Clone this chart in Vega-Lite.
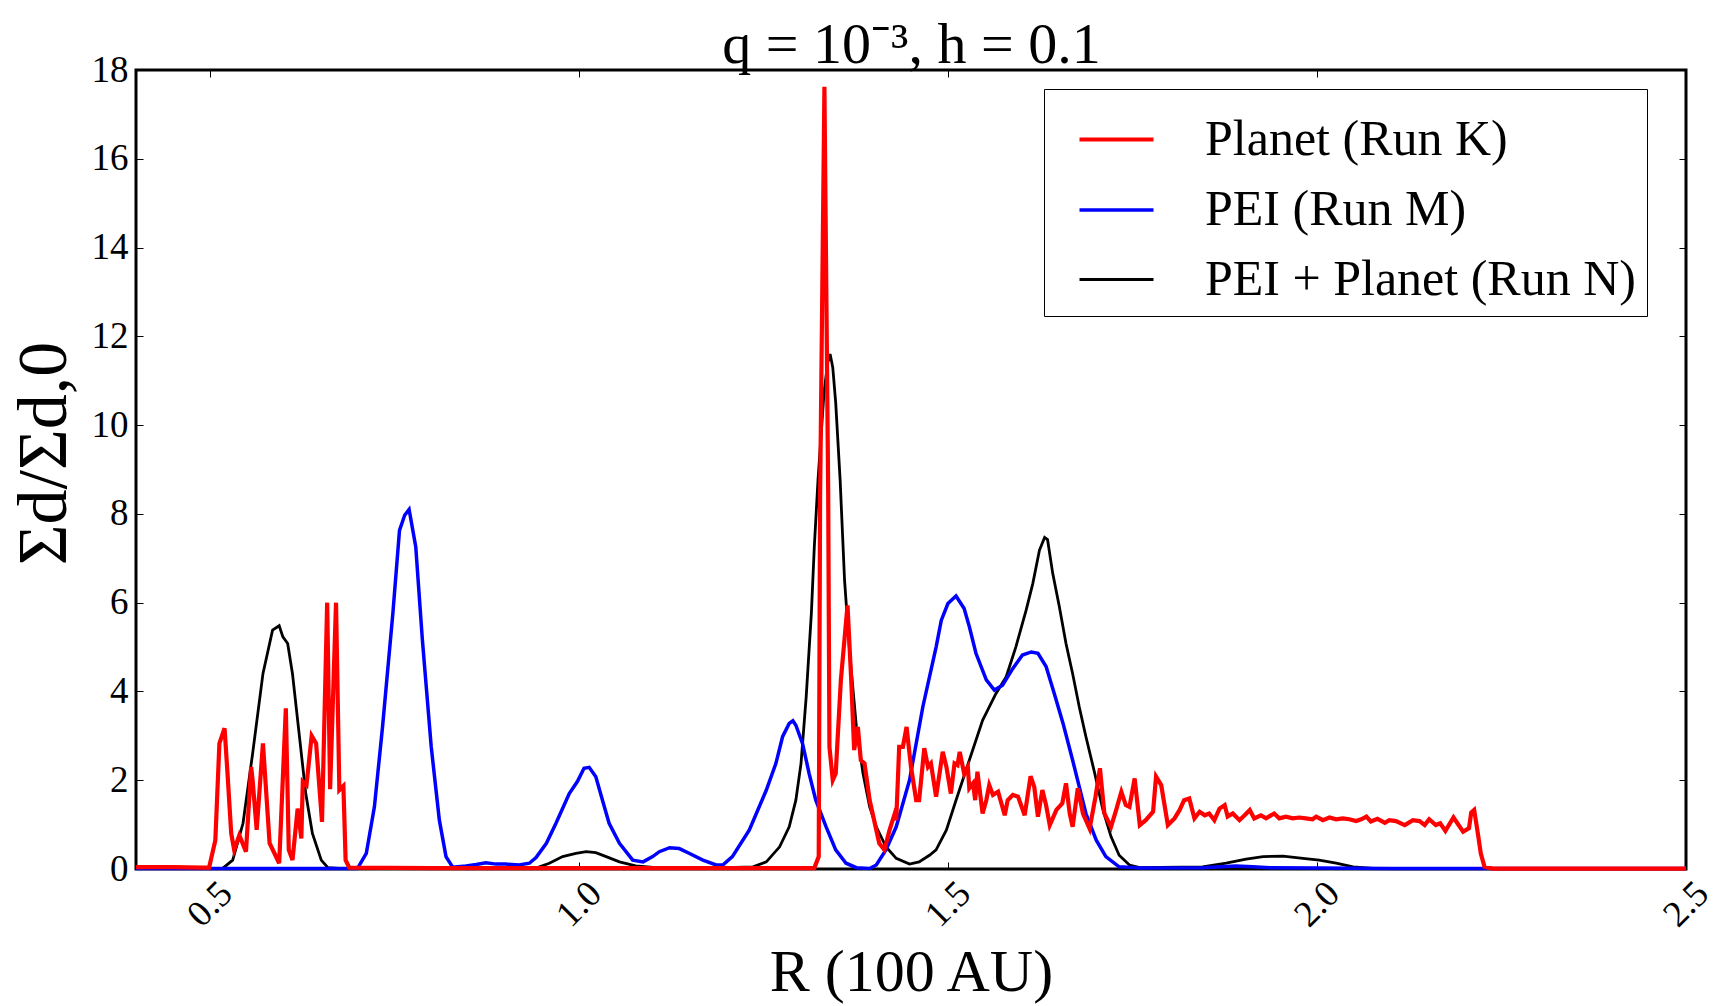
{
  "$schema": "https://vega.github.io/schema/vega-lite/v6.json",
  "description": "Dust surface density ratio vs radius, q=1e-3, h=0.1",
  "width": 1550,
  "height": 799,
  "autosize": {"type": "none"},
  "padding": {"left": 136, "top": 70, "right": 39, "bottom": 137},
  "background": "white",
  "data": {
    "values": [
      {"r": 0.40, "s": 0.04, "run": "Planet (Run K)"},
      {"r": 0.45, "s": 0.04, "run": "Planet (Run K)"},
      {"r": 0.49, "s": 0.03, "run": "Planet (Run K)"},
      {"r": 0.499, "s": 0.03, "run": "Planet (Run K)"},
      {"r": 0.5075, "s": 0.65, "run": "Planet (Run K)"},
      {"r": 0.513, "s": 2.83, "run": "Planet (Run K)"},
      {"r": 0.52, "s": 3.17, "run": "Planet (Run K)"},
      {"r": 0.524, "s": 2.15, "run": "Planet (Run K)"},
      {"r": 0.529, "s": 0.8, "run": "Planet (Run K)"},
      {"r": 0.533, "s": 0.43, "run": "Planet (Run K)"},
      {"r": 0.54, "s": 0.76, "run": "Planet (Run K)"},
      {"r": 0.549, "s": 0.39, "run": "Planet (Run K)"},
      {"r": 0.556, "s": 2.3, "run": "Planet (Run K)"},
      {"r": 0.558, "s": 2.0, "run": "Planet (Run K)"},
      {"r": 0.5635, "s": 0.88, "run": "Planet (Run K)"},
      {"r": 0.572, "s": 2.83, "run": "Planet (Run K)"},
      {"r": 0.581, "s": 0.58, "run": "Planet (Run K)"},
      {"r": 0.594, "s": 0.13, "run": "Planet (Run K)"},
      {"r": 0.603, "s": 3.62, "run": "Planet (Run K)"},
      {"r": 0.607, "s": 0.43, "run": "Planet (Run K)"},
      {"r": 0.612, "s": 0.2, "run": "Planet (Run K)"},
      {"r": 0.619, "s": 1.36, "run": "Planet (Run K)"},
      {"r": 0.624, "s": 0.69, "run": "Planet (Run K)"},
      {"r": 0.626, "s": 1.97, "run": "Planet (Run K)"},
      {"r": 0.631, "s": 1.89, "run": "Planet (Run K)"},
      {"r": 0.638, "s": 3.0, "run": "Planet (Run K)"},
      {"r": 0.644, "s": 2.83, "run": "Planet (Run K)"},
      {"r": 0.652, "s": 1.06, "run": "Planet (Run K)"},
      {"r": 0.659, "s": 6.0, "run": "Planet (Run K)"},
      {"r": 0.663, "s": 1.8, "run": "Planet (Run K)"},
      {"r": 0.671, "s": 6.0, "run": "Planet (Run K)"},
      {"r": 0.6755, "s": 1.78, "run": "Planet (Run K)"},
      {"r": 0.681, "s": 1.87, "run": "Planet (Run K)"},
      {"r": 0.684, "s": 0.2, "run": "Planet (Run K)"},
      {"r": 0.689, "s": 0.03, "run": "Planet (Run K)"},
      {"r": 0.8, "s": 0.02, "run": "Planet (Run K)"},
      {"r": 1.0, "s": 0.02, "run": "Planet (Run K)"},
      {"r": 1.2, "s": 0.02, "run": "Planet (Run K)"},
      {"r": 1.319, "s": 0.02, "run": "Planet (Run K)"},
      {"r": 1.325, "s": 0.28, "run": "Planet (Run K)"},
      {"r": 1.3268, "s": 8.3, "run": "Planet (Run K)"},
      {"r": 1.3327, "s": 17.62, "run": "Planet (Run K)"},
      {"r": 1.3378, "s": 8.5, "run": "Planet (Run K)"},
      {"r": 1.3395, "s": 2.75, "run": "Planet (Run K)"},
      {"r": 1.344, "s": 2.0, "run": "Planet (Run K)"},
      {"r": 1.348, "s": 2.15, "run": "Planet (Run K)"},
      {"r": 1.355, "s": 4.26, "run": "Planet (Run K)"},
      {"r": 1.364, "s": 5.94, "run": "Planet (Run K)"},
      {"r": 1.369, "s": 4.26, "run": "Planet (Run K)"},
      {"r": 1.373, "s": 2.68, "run": "Planet (Run K)"},
      {"r": 1.378, "s": 3.2, "run": "Planet (Run K)"},
      {"r": 1.382, "s": 2.45, "run": "Planet (Run K)"},
      {"r": 1.387, "s": 2.38, "run": "Planet (Run K)"},
      {"r": 1.394, "s": 1.55, "run": "Planet (Run K)"},
      {"r": 1.398, "s": 1.25, "run": "Planet (Run K)"},
      {"r": 1.407, "s": 0.58, "run": "Planet (Run K)"},
      {"r": 1.414, "s": 0.43, "run": "Planet (Run K)"},
      {"r": 1.421, "s": 0.88, "run": "Planet (Run K)"},
      {"r": 1.428, "s": 1.25, "run": "Planet (Run K)"},
      {"r": 1.43, "s": 1.1, "run": "Planet (Run K)"},
      {"r": 1.434, "s": 2.75, "run": "Planet (Run K)"},
      {"r": 1.439, "s": 2.75, "run": "Planet (Run K)"},
      {"r": 1.444, "s": 3.2, "run": "Planet (Run K)"},
      {"r": 1.45, "s": 2.3, "run": "Planet (Run K)"},
      {"r": 1.457, "s": 1.55, "run": "Planet (Run K)"},
      {"r": 1.461, "s": 1.55, "run": "Planet (Run K)"},
      {"r": 1.468, "s": 2.72, "run": "Planet (Run K)"},
      {"r": 1.473, "s": 2.3, "run": "Planet (Run K)"},
      {"r": 1.477, "s": 2.38, "run": "Planet (Run K)"},
      {"r": 1.484, "s": 1.63, "run": "Planet (Run K)"},
      {"r": 1.493, "s": 2.64, "run": "Planet (Run K)"},
      {"r": 1.498, "s": 2.3, "run": "Planet (Run K)"},
      {"r": 1.504, "s": 1.7, "run": "Planet (Run K)"},
      {"r": 1.509, "s": 2.38, "run": "Planet (Run K)"},
      {"r": 1.513, "s": 2.34, "run": "Planet (Run K)"},
      {"r": 1.516, "s": 2.64, "run": "Planet (Run K)"},
      {"r": 1.522, "s": 2.15, "run": "Planet (Run K)"},
      {"r": 1.527, "s": 2.3, "run": "Planet (Run K)"},
      {"r": 1.529, "s": 1.82, "run": "Planet (Run K)"},
      {"r": 1.534, "s": 1.93, "run": "Planet (Run K)"},
      {"r": 1.537, "s": 1.55, "run": "Planet (Run K)"},
      {"r": 1.54, "s": 2.19, "run": "Planet (Run K)"},
      {"r": 1.547, "s": 1.25, "run": "Planet (Run K)"},
      {"r": 1.552, "s": 1.55, "run": "Planet (Run K)"},
      {"r": 1.556, "s": 1.89, "run": "Planet (Run K)"},
      {"r": 1.561, "s": 1.67, "run": "Planet (Run K)"},
      {"r": 1.568, "s": 1.74, "run": "Planet (Run K)"},
      {"r": 1.577, "s": 1.21, "run": "Planet (Run K)"},
      {"r": 1.581, "s": 1.55, "run": "Planet (Run K)"},
      {"r": 1.588, "s": 1.67, "run": "Planet (Run K)"},
      {"r": 1.595, "s": 1.63, "run": "Planet (Run K)"},
      {"r": 1.604, "s": 1.21, "run": "Planet (Run K)"},
      {"r": 1.612, "s": 2.09, "run": "Planet (Run K)"},
      {"r": 1.617, "s": 1.85, "run": "Planet (Run K)"},
      {"r": 1.622, "s": 1.18, "run": "Planet (Run K)"},
      {"r": 1.628, "s": 1.78, "run": "Planet (Run K)"},
      {"r": 1.633, "s": 1.44, "run": "Planet (Run K)"},
      {"r": 1.638, "s": 0.99, "run": "Planet (Run K)"},
      {"r": 1.647, "s": 1.33, "run": "Planet (Run K)"},
      {"r": 1.655, "s": 1.48, "run": "Planet (Run K)"},
      {"r": 1.66, "s": 1.93, "run": "Planet (Run K)"},
      {"r": 1.665, "s": 1.25, "run": "Planet (Run K)"},
      {"r": 1.669, "s": 0.95, "run": "Planet (Run K)"},
      {"r": 1.676, "s": 1.82, "run": "Planet (Run K)"},
      {"r": 1.683, "s": 1.25, "run": "Planet (Run K)"},
      {"r": 1.692, "s": 0.91, "run": "Planet (Run K)"},
      {"r": 1.7, "s": 1.63, "run": "Planet (Run K)"},
      {"r": 1.706, "s": 2.27, "run": "Planet (Run K)"},
      {"r": 1.712, "s": 1.25, "run": "Planet (Run K)"},
      {"r": 1.721, "s": 0.95, "run": "Planet (Run K)"},
      {"r": 1.728, "s": 1.33, "run": "Planet (Run K)"},
      {"r": 1.735, "s": 1.74, "run": "Planet (Run K)"},
      {"r": 1.741, "s": 1.44, "run": "Planet (Run K)"},
      {"r": 1.746, "s": 1.4, "run": "Planet (Run K)"},
      {"r": 1.753, "s": 2.04, "run": "Planet (Run K)"},
      {"r": 1.76, "s": 0.99, "run": "Planet (Run K)"},
      {"r": 1.768, "s": 1.1, "run": "Planet (Run K)"},
      {"r": 1.778, "s": 1.29, "run": "Planet (Run K)"},
      {"r": 1.782, "s": 2.08, "run": "Planet (Run K)"},
      {"r": 1.789, "s": 1.89, "run": "Planet (Run K)"},
      {"r": 1.798, "s": 0.99, "run": "Planet (Run K)"},
      {"r": 1.807, "s": 1.14, "run": "Planet (Run K)"},
      {"r": 1.814, "s": 1.33, "run": "Planet (Run K)"},
      {"r": 1.82, "s": 1.55, "run": "Planet (Run K)"},
      {"r": 1.827, "s": 1.59, "run": "Planet (Run K)"},
      {"r": 1.834, "s": 1.14, "run": "Planet (Run K)"},
      {"r": 1.841, "s": 1.29, "run": "Planet (Run K)"},
      {"r": 1.848, "s": 1.21, "run": "Planet (Run K)"},
      {"r": 1.854, "s": 1.25, "run": "Planet (Run K)"},
      {"r": 1.861, "s": 1.1, "run": "Planet (Run K)"},
      {"r": 1.868, "s": 1.36, "run": "Planet (Run K)"},
      {"r": 1.875, "s": 1.44, "run": "Planet (Run K)"},
      {"r": 1.879, "s": 1.18, "run": "Planet (Run K)"},
      {"r": 1.886, "s": 1.25, "run": "Planet (Run K)"},
      {"r": 1.895, "s": 1.1, "run": "Planet (Run K)"},
      {"r": 1.902, "s": 1.21, "run": "Planet (Run K)"},
      {"r": 1.909, "s": 1.33, "run": "Planet (Run K)"},
      {"r": 1.915, "s": 1.14, "run": "Planet (Run K)"},
      {"r": 1.924, "s": 1.21, "run": "Planet (Run K)"},
      {"r": 1.931, "s": 1.14, "run": "Planet (Run K)"},
      {"r": 1.942, "s": 1.25, "run": "Planet (Run K)"},
      {"r": 1.949, "s": 1.14, "run": "Planet (Run K)"},
      {"r": 1.958, "s": 1.18, "run": "Planet (Run K)"},
      {"r": 1.967, "s": 1.14, "run": "Planet (Run K)"},
      {"r": 1.976, "s": 1.16, "run": "Planet (Run K)"},
      {"r": 1.985, "s": 1.14, "run": "Planet (Run K)"},
      {"r": 1.994, "s": 1.12, "run": "Planet (Run K)"},
      {"r": 1.999, "s": 1.18, "run": "Planet (Run K)"},
      {"r": 2.008, "s": 1.1, "run": "Planet (Run K)"},
      {"r": 2.017, "s": 1.16, "run": "Planet (Run K)"},
      {"r": 2.026, "s": 1.12, "run": "Planet (Run K)"},
      {"r": 2.035, "s": 1.14, "run": "Planet (Run K)"},
      {"r": 2.044, "s": 1.12, "run": "Planet (Run K)"},
      {"r": 2.053, "s": 1.08, "run": "Planet (Run K)"},
      {"r": 2.06, "s": 1.12, "run": "Planet (Run K)"},
      {"r": 2.067, "s": 1.18, "run": "Planet (Run K)"},
      {"r": 2.073, "s": 1.07, "run": "Planet (Run K)"},
      {"r": 2.082, "s": 1.13, "run": "Planet (Run K)"},
      {"r": 2.092, "s": 1.04, "run": "Planet (Run K)"},
      {"r": 2.098, "s": 1.1, "run": "Planet (Run K)"},
      {"r": 2.107, "s": 1.08, "run": "Planet (Run K)"},
      {"r": 2.119, "s": 0.99, "run": "Planet (Run K)"},
      {"r": 2.13, "s": 1.1, "run": "Planet (Run K)"},
      {"r": 2.139, "s": 1.08, "run": "Planet (Run K)"},
      {"r": 2.146, "s": 0.99, "run": "Planet (Run K)"},
      {"r": 2.152, "s": 1.12, "run": "Planet (Run K)"},
      {"r": 2.161, "s": 0.99, "run": "Planet (Run K)"},
      {"r": 2.167, "s": 1.03, "run": "Planet (Run K)"},
      {"r": 2.174, "s": 0.86, "run": "Planet (Run K)"},
      {"r": 2.185, "s": 1.16, "run": "Planet (Run K)"},
      {"r": 2.198, "s": 0.84, "run": "Planet (Run K)"},
      {"r": 2.206, "s": 0.92, "run": "Planet (Run K)"},
      {"r": 2.209, "s": 1.27, "run": "Planet (Run K)"},
      {"r": 2.213, "s": 1.33, "run": "Planet (Run K)"},
      {"r": 2.218, "s": 0.8, "run": "Planet (Run K)"},
      {"r": 2.222, "s": 0.35, "run": "Planet (Run K)"},
      {"r": 2.227, "s": 0.05, "run": "Planet (Run K)"},
      {"r": 2.238, "s": 0.01, "run": "Planet (Run K)"},
      {"r": 2.5, "s": 0.01, "run": "Planet (Run K)"},

      {"r": 0.40, "s": 0.01, "run": "PEI (Run M)"},
      {"r": 0.70, "s": 0.01, "run": "PEI (Run M)"},
      {"r": 0.712, "s": 0.35, "run": "PEI (Run M)"},
      {"r": 0.723, "s": 1.4, "run": "PEI (Run M)"},
      {"r": 0.734, "s": 3.2, "run": "PEI (Run M)"},
      {"r": 0.748, "s": 5.76, "run": "PEI (Run M)"},
      {"r": 0.757, "s": 7.63, "run": "PEI (Run M)"},
      {"r": 0.764, "s": 7.97, "run": "PEI (Run M)"},
      {"r": 0.77, "s": 8.1, "run": "PEI (Run M)"},
      {"r": 0.779, "s": 7.26, "run": "PEI (Run M)"},
      {"r": 0.788, "s": 5.16, "run": "PEI (Run M)"},
      {"r": 0.8, "s": 2.75, "run": "PEI (Run M)"},
      {"r": 0.811, "s": 1.1, "run": "PEI (Run M)"},
      {"r": 0.82, "s": 0.28, "run": "PEI (Run M)"},
      {"r": 0.829, "s": 0.04, "run": "PEI (Run M)"},
      {"r": 0.847, "s": 0.07, "run": "PEI (Run M)"},
      {"r": 0.861, "s": 0.1, "run": "PEI (Run M)"},
      {"r": 0.874, "s": 0.14, "run": "PEI (Run M)"},
      {"r": 0.888, "s": 0.11, "run": "PEI (Run M)"},
      {"r": 0.901, "s": 0.11, "run": "PEI (Run M)"},
      {"r": 0.919, "s": 0.09, "run": "PEI (Run M)"},
      {"r": 0.933, "s": 0.13, "run": "PEI (Run M)"},
      {"r": 0.942, "s": 0.26, "run": "PEI (Run M)"},
      {"r": 0.956, "s": 0.58, "run": "PEI (Run M)"},
      {"r": 0.969, "s": 1.03, "run": "PEI (Run M)"},
      {"r": 0.987, "s": 1.7, "run": "PEI (Run M)"},
      {"r": 0.998, "s": 1.97, "run": "PEI (Run M)"},
      {"r": 1.007, "s": 2.27, "run": "PEI (Run M)"},
      {"r": 1.014, "s": 2.29, "run": "PEI (Run M)"},
      {"r": 1.023, "s": 2.08, "run": "PEI (Run M)"},
      {"r": 1.032, "s": 1.55, "run": "PEI (Run M)"},
      {"r": 1.041, "s": 1.03, "run": "PEI (Run M)"},
      {"r": 1.055, "s": 0.58, "run": "PEI (Run M)"},
      {"r": 1.073, "s": 0.2, "run": "PEI (Run M)"},
      {"r": 1.087, "s": 0.16, "run": "PEI (Run M)"},
      {"r": 1.1, "s": 0.28, "run": "PEI (Run M)"},
      {"r": 1.109, "s": 0.39, "run": "PEI (Run M)"},
      {"r": 1.123, "s": 0.48, "run": "PEI (Run M)"},
      {"r": 1.136, "s": 0.46, "run": "PEI (Run M)"},
      {"r": 1.15, "s": 0.35, "run": "PEI (Run M)"},
      {"r": 1.168, "s": 0.2, "run": "PEI (Run M)"},
      {"r": 1.186, "s": 0.09, "run": "PEI (Run M)"},
      {"r": 1.195, "s": 0.09, "run": "PEI (Run M)"},
      {"r": 1.208, "s": 0.28, "run": "PEI (Run M)"},
      {"r": 1.231, "s": 0.88, "run": "PEI (Run M)"},
      {"r": 1.254, "s": 1.78, "run": "PEI (Run M)"},
      {"r": 1.267, "s": 2.38, "run": "PEI (Run M)"},
      {"r": 1.276, "s": 2.98, "run": "PEI (Run M)"},
      {"r": 1.285, "s": 3.28, "run": "PEI (Run M)"},
      {"r": 1.29, "s": 3.34, "run": "PEI (Run M)"},
      {"r": 1.294, "s": 3.24, "run": "PEI (Run M)"},
      {"r": 1.303, "s": 2.83, "run": "PEI (Run M)"},
      {"r": 1.312, "s": 2.15, "run": "PEI (Run M)"},
      {"r": 1.321, "s": 1.55, "run": "PEI (Run M)"},
      {"r": 1.335, "s": 0.95, "run": "PEI (Run M)"},
      {"r": 1.348, "s": 0.43, "run": "PEI (Run M)"},
      {"r": 1.362, "s": 0.13, "run": "PEI (Run M)"},
      {"r": 1.376, "s": 0.03, "run": "PEI (Run M)"},
      {"r": 1.394, "s": 0.01, "run": "PEI (Run M)"},
      {"r": 1.403, "s": 0.09, "run": "PEI (Run M)"},
      {"r": 1.416, "s": 0.43, "run": "PEI (Run M)"},
      {"r": 1.43, "s": 0.95, "run": "PEI (Run M)"},
      {"r": 1.448, "s": 2.0, "run": "PEI (Run M)"},
      {"r": 1.466, "s": 3.65, "run": "PEI (Run M)"},
      {"r": 1.484, "s": 5.0, "run": "PEI (Run M)"},
      {"r": 1.491, "s": 5.6, "run": "PEI (Run M)"},
      {"r": 1.5, "s": 5.98, "run": "PEI (Run M)"},
      {"r": 1.511, "s": 6.15, "run": "PEI (Run M)"},
      {"r": 1.522, "s": 5.87, "run": "PEI (Run M)"},
      {"r": 1.529, "s": 5.46, "run": "PEI (Run M)"},
      {"r": 1.538, "s": 4.86, "run": "PEI (Run M)"},
      {"r": 1.552, "s": 4.26, "run": "PEI (Run M)"},
      {"r": 1.563, "s": 4.03, "run": "PEI (Run M)"},
      {"r": 1.574, "s": 4.14, "run": "PEI (Run M)"},
      {"r": 1.588, "s": 4.52, "run": "PEI (Run M)"},
      {"r": 1.601, "s": 4.82, "run": "PEI (Run M)"},
      {"r": 1.613, "s": 4.89, "run": "PEI (Run M)"},
      {"r": 1.622, "s": 4.86, "run": "PEI (Run M)"},
      {"r": 1.633, "s": 4.56, "run": "PEI (Run M)"},
      {"r": 1.644, "s": 3.96, "run": "PEI (Run M)"},
      {"r": 1.656, "s": 3.28, "run": "PEI (Run M)"},
      {"r": 1.669, "s": 2.45, "run": "PEI (Run M)"},
      {"r": 1.678, "s": 1.85, "run": "PEI (Run M)"},
      {"r": 1.687, "s": 1.25, "run": "PEI (Run M)"},
      {"r": 1.701, "s": 0.65, "run": "PEI (Run M)"},
      {"r": 1.714, "s": 0.28, "run": "PEI (Run M)"},
      {"r": 1.732, "s": 0.05, "run": "PEI (Run M)"},
      {"r": 1.76, "s": 0.02, "run": "PEI (Run M)"},
      {"r": 1.845, "s": 0.03, "run": "PEI (Run M)"},
      {"r": 1.89, "s": 0.07, "run": "PEI (Run M)"},
      {"r": 1.913, "s": 0.05, "run": "PEI (Run M)"},
      {"r": 1.936, "s": 0.03, "run": "PEI (Run M)"},
      {"r": 2.0, "s": 0.02, "run": "PEI (Run M)"},
      {"r": 2.1, "s": 0.01, "run": "PEI (Run M)"},
      {"r": 2.5, "s": 0.01, "run": "PEI (Run M)"},

      {"r": 0.40, "s": 0.05, "run": "PEI + Planet (Run N)"},
      {"r": 0.42, "s": 0.03, "run": "PEI + Planet (Run N)"},
      {"r": 0.45, "s": 0.01, "run": "PEI + Planet (Run N)"},
      {"r": 0.517, "s": 0.01, "run": "PEI + Planet (Run N)"},
      {"r": 0.531, "s": 0.2, "run": "PEI + Planet (Run N)"},
      {"r": 0.545, "s": 1.03, "run": "PEI + Planet (Run N)"},
      {"r": 0.558, "s": 2.6, "run": "PEI + Planet (Run N)"},
      {"r": 0.572, "s": 4.4, "run": "PEI + Planet (Run N)"},
      {"r": 0.585, "s": 5.38, "run": "PEI + Planet (Run N)"},
      {"r": 0.594, "s": 5.48, "run": "PEI + Planet (Run N)"},
      {"r": 0.599, "s": 5.23, "run": "PEI + Planet (Run N)"},
      {"r": 0.6055, "s": 5.08, "run": "PEI + Planet (Run N)"},
      {"r": 0.612, "s": 4.4, "run": "PEI + Planet (Run N)"},
      {"r": 0.621, "s": 3.05, "run": "PEI + Planet (Run N)"},
      {"r": 0.63, "s": 1.7, "run": "PEI + Planet (Run N)"},
      {"r": 0.639, "s": 0.8, "run": "PEI + Planet (Run N)"},
      {"r": 0.651, "s": 0.2, "run": "PEI + Planet (Run N)"},
      {"r": 0.66, "s": 0.03, "run": "PEI + Planet (Run N)"},
      {"r": 0.68, "s": 0.01, "run": "PEI + Planet (Run N)"},
      {"r": 0.94, "s": 0.01, "run": "PEI + Planet (Run N)"},
      {"r": 0.96, "s": 0.13, "run": "PEI + Planet (Run N)"},
      {"r": 0.978, "s": 0.28, "run": "PEI + Planet (Run N)"},
      {"r": 0.996, "s": 0.35, "run": "PEI + Planet (Run N)"},
      {"r": 1.01, "s": 0.39, "run": "PEI + Planet (Run N)"},
      {"r": 1.023, "s": 0.37, "run": "PEI + Planet (Run N)"},
      {"r": 1.037, "s": 0.28, "run": "PEI + Planet (Run N)"},
      {"r": 1.055, "s": 0.16, "run": "PEI + Planet (Run N)"},
      {"r": 1.077, "s": 0.07, "run": "PEI + Planet (Run N)"},
      {"r": 1.105, "s": 0.03, "run": "PEI + Planet (Run N)"},
      {"r": 1.15, "s": 0.01, "run": "PEI + Planet (Run N)"},
      {"r": 1.236, "s": 0.05, "run": "PEI + Planet (Run N)"},
      {"r": 1.254, "s": 0.16, "run": "PEI + Planet (Run N)"},
      {"r": 1.272, "s": 0.5, "run": "PEI + Planet (Run N)"},
      {"r": 1.285, "s": 0.95, "run": "PEI + Planet (Run N)"},
      {"r": 1.294, "s": 1.55, "run": "PEI + Planet (Run N)"},
      {"r": 1.301, "s": 2.38, "run": "PEI + Planet (Run N)"},
      {"r": 1.308, "s": 3.88, "run": "PEI + Planet (Run N)"},
      {"r": 1.315, "s": 5.76, "run": "PEI + Planet (Run N)"},
      {"r": 1.319, "s": 7.26, "run": "PEI + Planet (Run N)"},
      {"r": 1.324, "s": 8.76, "run": "PEI + Planet (Run N)"},
      {"r": 1.332, "s": 10.7, "run": "PEI + Planet (Run N)"},
      {"r": 1.337, "s": 11.4, "run": "PEI + Planet (Run N)"},
      {"r": 1.3404, "s": 11.6, "run": "PEI + Planet (Run N)"},
      {"r": 1.344, "s": 11.3, "run": "PEI + Planet (Run N)"},
      {"r": 1.348, "s": 10.5, "run": "PEI + Planet (Run N)"},
      {"r": 1.354, "s": 8.76, "run": "PEI + Planet (Run N)"},
      {"r": 1.36, "s": 6.5, "run": "PEI + Planet (Run N)"},
      {"r": 1.367, "s": 4.86, "run": "PEI + Planet (Run N)"},
      {"r": 1.376, "s": 3.2, "run": "PEI + Planet (Run N)"},
      {"r": 1.385, "s": 2.15, "run": "PEI + Planet (Run N)"},
      {"r": 1.394, "s": 1.4, "run": "PEI + Planet (Run N)"},
      {"r": 1.403, "s": 0.95, "run": "PEI + Planet (Run N)"},
      {"r": 1.416, "s": 0.5, "run": "PEI + Planet (Run N)"},
      {"r": 1.43, "s": 0.24, "run": "PEI + Planet (Run N)"},
      {"r": 1.448, "s": 0.11, "run": "PEI + Planet (Run N)"},
      {"r": 1.461, "s": 0.16, "run": "PEI + Planet (Run N)"},
      {"r": 1.475, "s": 0.31, "run": "PEI + Planet (Run N)"},
      {"r": 1.484, "s": 0.43, "run": "PEI + Planet (Run N)"},
      {"r": 1.498, "s": 0.88, "run": "PEI + Planet (Run N)"},
      {"r": 1.511, "s": 1.55, "run": "PEI + Planet (Run N)"},
      {"r": 1.529, "s": 2.45, "run": "PEI + Planet (Run N)"},
      {"r": 1.547, "s": 3.35, "run": "PEI + Planet (Run N)"},
      {"r": 1.565, "s": 3.95, "run": "PEI + Planet (Run N)"},
      {"r": 1.579, "s": 4.33, "run": "PEI + Planet (Run N)"},
      {"r": 1.592, "s": 5.0, "run": "PEI + Planet (Run N)"},
      {"r": 1.606, "s": 5.83, "run": "PEI + Planet (Run N)"},
      {"r": 1.615, "s": 6.43, "run": "PEI + Planet (Run N)"},
      {"r": 1.624, "s": 7.18, "run": "PEI + Planet (Run N)"},
      {"r": 1.631, "s": 7.47, "run": "PEI + Planet (Run N)"},
      {"r": 1.635, "s": 7.42, "run": "PEI + Planet (Run N)"},
      {"r": 1.642, "s": 6.66, "run": "PEI + Planet (Run N)"},
      {"r": 1.651, "s": 5.91, "run": "PEI + Planet (Run N)"},
      {"r": 1.66, "s": 5.08, "run": "PEI + Planet (Run N)"},
      {"r": 1.669, "s": 4.4, "run": "PEI + Planet (Run N)"},
      {"r": 1.678, "s": 3.65, "run": "PEI + Planet (Run N)"},
      {"r": 1.687, "s": 2.98, "run": "PEI + Planet (Run N)"},
      {"r": 1.699, "s": 2.15, "run": "PEI + Planet (Run N)"},
      {"r": 1.71, "s": 1.33, "run": "PEI + Planet (Run N)"},
      {"r": 1.721, "s": 0.73, "run": "PEI + Planet (Run N)"},
      {"r": 1.732, "s": 0.31, "run": "PEI + Planet (Run N)"},
      {"r": 1.746, "s": 0.09, "run": "PEI + Planet (Run N)"},
      {"r": 1.76, "s": 0.03, "run": "PEI + Planet (Run N)"},
      {"r": 1.845, "s": 0.05, "run": "PEI + Planet (Run N)"},
      {"r": 1.877, "s": 0.13, "run": "PEI + Planet (Run N)"},
      {"r": 1.904, "s": 0.22, "run": "PEI + Planet (Run N)"},
      {"r": 1.927, "s": 0.28, "run": "PEI + Planet (Run N)"},
      {"r": 1.954, "s": 0.29, "run": "PEI + Planet (Run N)"},
      {"r": 1.981, "s": 0.24, "run": "PEI + Planet (Run N)"},
      {"r": 2.003, "s": 0.2, "run": "PEI + Planet (Run N)"},
      {"r": 2.026, "s": 0.13, "run": "PEI + Planet (Run N)"},
      {"r": 2.049, "s": 0.05, "run": "PEI + Planet (Run N)"},
      {"r": 2.08, "s": 0.01, "run": "PEI + Planet (Run N)"},
      {"r": 2.5, "s": 0.01, "run": "PEI + Planet (Run N)"}
    ]
  },
  "encoding": {
    "x": {"field": "r", "type": "quantitative", "scale": {"domain": [0.4, 2.5], "nice": false, "zero": false}},
    "y": {"field": "s", "type": "quantitative", "scale": {"domain": [0, 18], "nice": false}},
    "color": {
      "field": "run",
      "type": "nominal",
      "scale": {
        "domain": ["Planet (Run K)", "PEI (Run M)", "PEI + Planet (Run N)"],
        "range": ["#ff0000", "#0000ff", "#000000"]
      },
      "legend": {"title": null}
    },
    "strokeWidth": {
      "field": "run",
      "type": "ordinal",
      "scale": {
        "domain": ["Planet (Run K)", "PEI (Run M)", "PEI + Planet (Run N)"],
        "range": [4.2, 2.8, 2.8]
      },
      "legend": {"title": null}
    }
  },
  "layer": [
    {
      "transform": [{"filter": "datum.run === 'PEI + Planet (Run N)'"}],
      "mark": {"type": "line", "interpolate": "linear"},
      "encoding": {
        "x": {
          "field": "r",
          "type": "quantitative",
          "axis": {
            "orient": "bottom",
            "values": [0.5, 1.0, 1.5, 2.0, 2.5],
            "format": ".1f",
            "labelAngle": -45,
            "labelAlign": "center",
            "labelBaseline": "middle",
            "labelPadding": 42,
            "labelFlush": false,
            "labelOverlap": false,
            "title": "R (100 AU)",
            "titleX": 775,
            "titleY": 121,
            "titleAlign": "center",
            "titleBaseline": "alphabetic",
            "titleFontSize": 60
          }
        },
        "y": {
          "field": "s",
          "type": "quantitative",
          "axis": {
            "orient": "left",
            "values": [0, 2, 4, 6, 8, 10, 12, 14, 16, 18],
            "labelPadding": 15,
            "labelOverlap": false,
            "labelFlush": false,
            "title": "Σd/Σd,0",
            "titleAngle": -90,
            "titleX": -92,
            "titleY": 383,
            "titleAlign": "center",
            "titleBaseline": "middle",
            "titleFontSize": 70
          }
        }
      }
    },
    {
      "transform": [{"filter": "datum.run === 'PEI (Run M)'"}],
      "mark": {"type": "line", "interpolate": "linear"},
      "encoding": {
        "x": {
          "field": "r",
          "type": "quantitative",
          "axis": {
            "orient": "top",
            "values": [0.5, 1.0, 1.5, 2.0, 2.5],
            "labels": false,
            "title": "q = 10⁻³, h = 0.1",
            "titleX": 775,
            "titleY": -8,
            "titleAlign": "center",
            "titleBaseline": "alphabetic",
            "titleFontSize": 58
          }
        },
        "y": {
          "field": "s",
          "type": "quantitative",
          "axis": {"orient": "right", "values": [0, 2, 4, 6, 8, 10, 12, 14, 16, 18], "labels": false, "title": null}
        }
      }
    },
    {
      "transform": [{"filter": "datum.run === 'Planet (Run K)'"}],
      "mark": {"type": "line", "interpolate": "linear"},
      "encoding": {
        "x": {"field": "r", "type": "quantitative", "axis": null},
        "y": {"field": "s", "type": "quantitative", "axis": null}
      }
    }
  ],
  "resolve": {"axis": {"x": "independent", "y": "independent"}},
  "config": {
    "font": "Liberation Serif",
    "view": {"stroke": "black", "strokeWidth": 3},
    "axis": {
      "domain": false,
      "grid": false,
      "ticks": true,
      "tickSize": -7,
      "tickWidth": 1,
      "tickColor": "black",
      "labelFont": "Liberation Serif",
      "labelFontSize": 37,
      "labelColor": "black",
      "titleFont": "Liberation Serif",
      "titleFontWeight": "normal",
      "titleColor": "black"
    },
    "legend": {
      "orient": "none",
      "legendX": 908,
      "legendY": 19,
      "direction": "vertical",
      "strokeColor": "black",
      "strokeWidth": 1,
      "fillColor": "white",
      "padding": 11,
      "symbolOffset": 22,
      "symbolType": "stroke",
      "symbolSize": 5476,
      "rowPadding": 6,
      "labelOffset": 49,
      "labelFont": "Liberation Serif",
      "labelFontSize": 50,
      "labelColor": "black",
      "labelLimit": 800
    }
  }
}
